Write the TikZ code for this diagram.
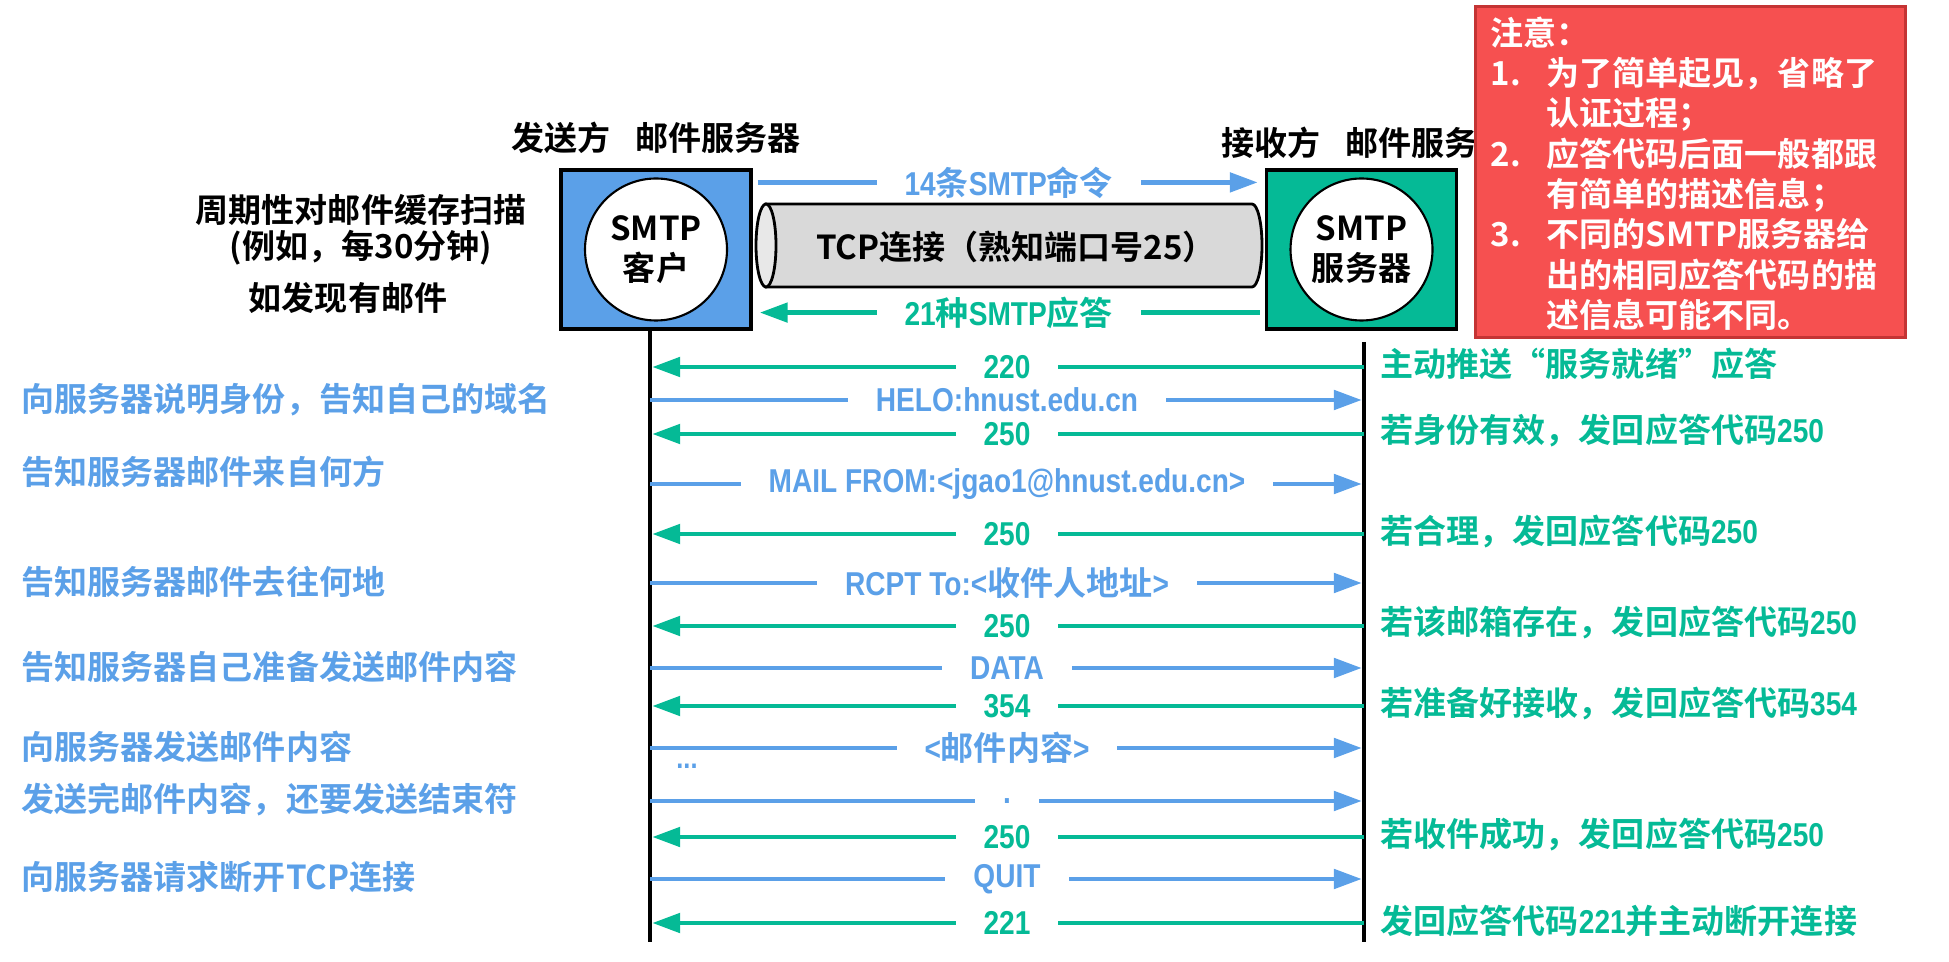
\documentclass[tikz,border=0pt]{standalone}
\usepackage{fontspec}
\setmainfont{Noto Sans CJK SC}[BoldFont={Noto Sans CJK SC Bold}]
\newfontfamily\narrowfont{Liberation Sans}[FakeStretch=0.85]
\usetikzlibrary{arrows.meta,calc,positioning}

\definecolor{mailblue}{RGB}{91,160,232}
\definecolor{mailgreen}{RGB}{5,186,150}
\definecolor{notered}{RGB}{246,80,80}
\definecolor{noteedge}{RGB}{196,52,52}
\definecolor{tcpgray}{RGB}{217,217,217}
\definecolor{capgray}{RGB}{232,232,232}

\begin{document}
\begin{tikzpicture}[
    txt/.style={font=\fontsize{9.4}{11.4}\selectfont\bfseries, inner sep=0pt},
    host/.style={draw, line width=0.9pt, minimum width=1.90cm, minimum height=1.59cm},
    proc/.style={txt, circle, draw, fill=white, line width=0.6pt, minimum size=1.42cm, align=center},
    life/.style={line width=1.2pt},
    cmd/.style={mailblue, line width=1.4pt, shorten >=0.6pt, -{Triangle[length=2.8mm, width=1.9mm]}},
    rsp/.style={mailgreen, line width=1.4pt, shorten >=0.6pt, -{Triangle[length=2.8mm, width=1.9mm]}},
    lbl/.style={txt, fill=white, inner xsep=2.8mm, inner ysep=0pt, midway},
    lnote/.style={txt, anchor=west, text=mailblue},
    rnote/.style={txt, anchor=west, text=mailgreen}
]
    \useasboundingbox (0,0) rectangle (19.49,9.61);

    % mail servers
    \node[host, fill=mailblue]  (sender)   at (6.56,7.115) {};
    \node[host, fill=mailgreen] (receiver) at (13.615,7.115) {};
    \node[proc] (client) at (sender)   {SMTP\\客户};
    \node[proc] (server) at (receiver) {SMTP\\服务器};

    \node[txt, above=0.14cm of sender] (sndlbl) {发送方\hspace{0.75em}邮件服务器};
    \node[txt, anchor=west] (rcvlbl) at (12.21,8.18) {接收方\hspace{0.75em}邮件服务};

    \node[txt] (scan)   at (3.61,7.51) {周期性对邮件缓存扫描};
    \node[txt] (period) at (3.61,7.13) {(例如，每30分钟)};
    \node[txt] (found)  at (3.48,6.63) {如发现有邮件};

    % TCP connection
    \draw[line width=0.8pt, fill=tcpgray] (7.66,7.57) -- (12.52,7.57)
        arc[start angle=90, end angle=-90, x radius=0.10, y radius=0.415] -- (7.66,6.74) -- cycle;
    \draw[line width=0.8pt, fill=capgray] (7.66,7.155) ellipse[x radius=0.10, y radius=0.415];
    \node[txt] (tcp) at (10.16,7.14) {TCP连接（熟知端口号25）};

    \draw[cmd] ($(sender.north east)+(0.05,-0.14)$) -- ($(receiver.north west)+(-0.05,-0.14)$)
        node[lbl] (cmds) {{\narrowfont 14}条{\narrowfont SMTP}命令};
    \draw[rsp] ($(receiver.south west)+(-0.05,0.18)$) -- ($(sender.south east)+(0.05,0.18)$)
        node[lbl] (rsps) {{\narrowfont 21}种{\narrowfont SMTP}应答};

    % note
    \node[fill=notered, draw=noteedge, line width=0.8pt, minimum width=4.30cm,
        minimum height=3.31cm, anchor=north west] (note) at (14.74,9.56) {};
    \node[txt, text=white, anchor=north west] (notetext) at ($(note.north west)+(0.16,-0.11)$) {%
        \begin{tabular}{@{}p{5.6mm}@{}l@{}}
        \multicolumn{2}{@{}l@{}}{注意：}\\
        1. & 为了简单起见，省略了\\
           & 认证过程；\\
        2. & 应答代码后面一般都跟\\
           & 有简单的描述信息；\\
        3. & 不同的SMTP服务器给\\
           & 出的相同应答代码的描\\
           & 述信息可能不同。
        \end{tabular}};

    % lifelines
    \coordinate (Ltop) at (6.50,6.32);
    \coordinate (Lbot) at (6.50,0.19);
    \coordinate (Rtop) at (13.64,6.19);
    \coordinate (Rbot) at (13.64,0.19);
    \draw[life] (Ltop) -- (Lbot);
    \draw[life] (Rtop) -- (Rbot);

    % message rows
    \coordinate (r1)  at (0,5.94);
    \coordinate (r2)  at (0,5.61);
    \coordinate (r3)  at (0,5.27);
    \coordinate (r4)  at (0,4.77);
    \coordinate (r5)  at (0,4.27);
    \coordinate (r6)  at (0,3.78);
    \coordinate (r7)  at (0,3.35);
    \coordinate (r8)  at (0,2.93);
    \coordinate (r9)  at (0,2.55);
    \coordinate (r10) at (0,2.13);
    \coordinate (r11) at (0,1.60);
    \coordinate (r12) at (0,1.24);
    \coordinate (r13) at (0,0.82);
    \coordinate (r14) at (0,0.38);

    \draw[rsp] (Rtop |- r1)  -- (Ltop |- r1)  node[lbl] (m1)  {\narrowfont 220};
    \draw[cmd] (Ltop |- r2)  -- (Rtop |- r2)  node[lbl] (m2)  {\narrowfont HELO:hnust.edu.cn};
    \draw[rsp] (Rtop |- r3)  -- (Ltop |- r3)  node[lbl] (m3)  {\narrowfont 250};
    \draw[cmd] (Ltop |- r4)  -- (Rtop |- r4)  node[lbl] (m4)  {\narrowfont MAIL FROM:<jgao1@hnust.edu.cn>};
    \draw[rsp] (Rtop |- r5)  -- (Ltop |- r5)  node[lbl] (m5)  {\narrowfont 250};
    \draw[cmd] (Ltop |- r6)  -- (Rtop |- r6)  node[lbl] (m6)  {{\narrowfont RCPT To:<}收件人地址{\narrowfont >}};
    \draw[rsp] (Rtop |- r7)  -- (Ltop |- r7)  node[lbl] (m7)  {\narrowfont 250};
    \draw[cmd] (Ltop |- r8)  -- (Rtop |- r8)  node[lbl] (m8)  {\narrowfont DATA};
    \draw[rsp] (Rtop |- r9)  -- (Ltop |- r9)  node[lbl] (m9)  {\narrowfont 354};
    \draw[cmd] (Ltop |- r10) -- (Rtop |- r10) node[lbl] (m10) {{\narrowfont <}邮件内容{\narrowfont >}};
    \draw[cmd] (Ltop |- r11) -- (Rtop |- r11) node[lbl] (m11) {\narrowfont .};
    \draw[rsp] (Rtop |- r12) -- (Ltop |- r12) node[lbl] (m12) {\narrowfont 250};
    \draw[cmd] (Ltop |- r13) -- (Rtop |- r13) node[lbl] (m13) {\narrowfont QUIT};
    \draw[rsp] (Rtop |- r14) -- (Ltop |- r14) node[lbl] (m14) {\narrowfont 221};

    \node[text=mailblue, font=\fontsize{8.5}{9}\selectfont\bfseries\narrowfont, inner sep=0pt] (more) at (6.87,1.95) {...};

    % client side
    \node[lnote] (d1) at (0.21,5.61) {向服务器说明身份，告知自己的域名};
    \node[lnote] (d2) at (0.21,4.89) {告知服务器邮件来自何方};
    \node[lnote] (d3) at (0.21,3.79) {告知服务器邮件去往何地};
    \node[lnote] (d4) at (0.21,2.94) {告知服务器自己准备发送邮件内容};
    \node[lnote] (d5) at (0.21,2.14) {向服务器发送邮件内容};
    \node[lnote] (d6) at (0.21,1.61) {发送完邮件内容，还要发送结束符};
    \node[lnote] (d7) at (0.21,0.84) {向服务器请求断开TCP连接};

    % server side
    \node[rnote] (e1) at (13.80,5.97) {主动推送“服务就绪”应答};
    \node[rnote] (e2) at (13.80,5.30) {若身份有效，发回应答代码{\narrowfont 250}};
    \node[rnote] (e3) at (13.80,4.29) {若合理，发回应答代码{\narrowfont 250}};
    \node[rnote] (e4) at (13.80,3.38) {若该邮箱存在，发回应答代码{\narrowfont 250}};
    \node[rnote] (e5) at (13.80,2.57) {若准备好接收，发回应答代码{\narrowfont 354}};
    \node[rnote] (e6) at (13.80,1.26) {若收件成功，发回应答代码{\narrowfont 250}};
    \node[rnote] (e7) at (13.80,0.40) {发回应答代码{\narrowfont 221}并主动断开连接};

\end{tikzpicture}
\end{document}
